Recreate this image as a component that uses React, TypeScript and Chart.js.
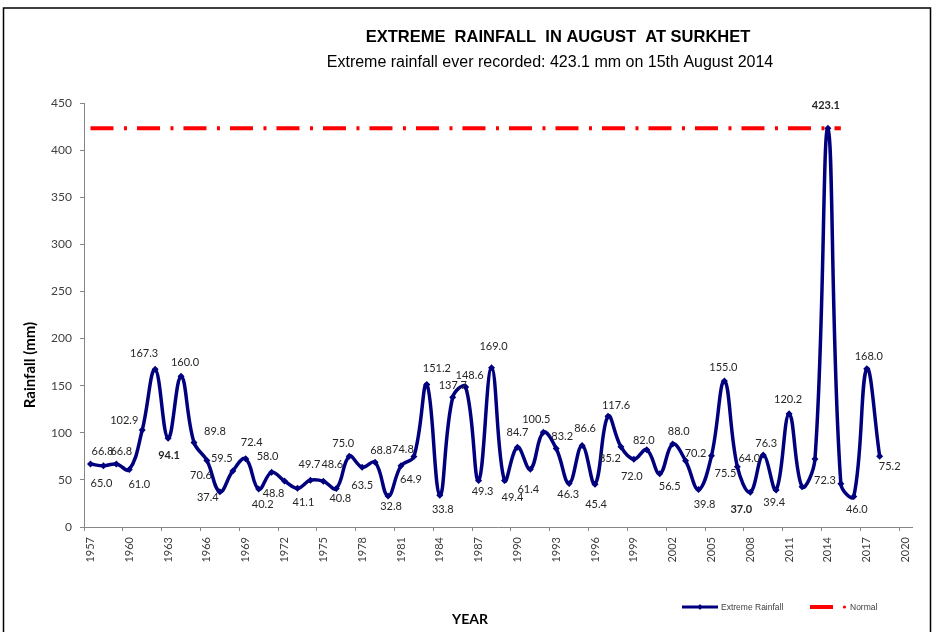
import React, { useEffect, useRef } from 'react';
import { Chart, registerables } from 'chart.js';

Chart.register(...registerables);

// ---------- data ----------
const YEARS = [
  '1957', '1958', '1959', '1960', '1961', '1962', '1963', '1964', '1965', '1966',
  '1967', '1968', '1969', '1970', '1971', '1972', '1973', '1974', '1975', '1976',
  '1977', '1978', '1979', '1980', '1981', '1982', '1983', '1984', '1985', '1986',
  '1987', '1988', '1989', '1990', '1991', '1992', '1993', '1994', '1995', '1996',
  '1997', '1998', '1999', '2000', '2001', '2002', '2003', '2004', '2005', '2006',
  '2007', '2008', '2009', '2010', '2011', '2012', '2013', '2014', '2015', '2016',
  '2017', '2018', '2019', '2020',
];

const RAINFALL = [
  66.8, 65.0, 66.8, 61.0, 102.9, 167.3, 94.1, 160.0, 89.8, 70.6,
  37.4, 59.5, 72.4, 40.2, 58.0, 48.8, 41.1, 49.7, 48.6, 40.8,
  75.0, 63.5, 68.8, 32.8, 64.9, 74.8, 151.2, 33.8, 137.7, 148.6,
  49.3, 169.0, 49.4, 84.7, 61.4, 100.5, 83.2, 46.3, 86.6, 45.4,
  117.6, 85.2, 72.0, 82.0, 56.5, 88.0, 70.2, 39.8, 75.5, 155.0,
  64.0, 37.0, 76.3, 39.4, 120.2, 42.8, 72.3, 423.1, 46.0, 32.5,
  168.0, 75.2, null, null,
];

const NORMAL_POINTS = [
  { year: '1957', value: 423.1 },
  { year: '2015', value: 423.1 },
];

const TICK_LABEL_YEARS = [
  '1957', '1960', '1963', '1966', '1969', '1972', '1975', '1978', '1981', '1984',
  '1987', '1990', '1993', '1996', '1999', '2002', '2005', '2008', '2011', '2014',
  '2017', '2020',
];

const BOLD_LABEL_YEARS = ['1963', '2008', '2014'];

const TITLE = 'EXTREME  RAINFALL  IN AUGUST  AT SURKHET';
const SUBTITLE = 'Extreme rainfall ever recorded: 423.1 mm on 15th August 2014';
const Y_TITLE = 'Rainfall (mm)';
const X_TITLE = 'YEAR';
const SERIES_NAME = 'Extreme Rainfall';
const NORMAL_NAME = 'Normal';

// label offsets (style): [dx, dy] from each point, null = hidden
const LABEL_OFFSETS: ([number, number] | null)[] = [
  [12, -13], [-2, 18], [5, -13], [10, 15], [-18, -10], [-11, -16], [1, 17], [4, -14], [21, -11], [-6, 15],
  [-12, 6], [-11, -12], [6, -16], [4, 15], [-4, -16], [-11, 12], [6, 14], [-1, -16], [9, -17], [4, 10],
  [-6, -13], [0, 18], [6, -12], [3, 10], [10, 14], [-11, -7], [10, -16], [3, 14], [0, -12], [4, -12],
  [4, 11], [2, -21], [8, 17], [0, -15], [-2, 20], [-7, -13], [6, -12], [-1, 11], [3, -17], [1, 20],
  [8, -11], [-11, 12], [-2, 17], [-3, -9], [10, 13], [6, -13], [10, -7], [6, 15], [14, 18], [-1, -14],
  [12, -8], [-9, 17], [3, -12], [-2, 13], [-1, -14], null, [10, 22], [-2, -23], [16, 26], null,
  [2, -12], [10, 10], null, null,
];

const NAVY = '#00007f';
const RED = '#ff0000';
const AXIS_GREY = '#868686';
const TEXT = '#262626';

const dataLabelPlugin = {
  id: 'dataLabels',
  afterDatasetsDraw(chart: any) {
    const meta = chart.getDatasetMeta(0);
    const ctx = chart.ctx;
    ctx.save();
    ctx.fillStyle = TEXT;
    ctx.textAlign = 'center';
    ctx.textBaseline = 'middle';
    meta.data.forEach((pt: any, i: number) => {
      const v = RAINFALL[i];
      const off = LABEL_OFFSETS[i];
      if (v === null || v === undefined || !off) return;
      const bold = BOLD_LABEL_YEARS.includes(YEARS[i]);
      ctx.font = (bold ? 'bold ' : '') + '11px Lato';
      ctx.fillText(v.toFixed(1), pt.x + off[0], pt.y + off[1]);
    });
    ctx.restore();
  },
};

const decorPlugin = {
  id: 'decor',
  beforeDraw(chart: any) {
    const ctx = chart.ctx;
    ctx.save();
    ctx.fillStyle = '#ffffff';
    ctx.fillRect(0, 0, chart.width, chart.height);
    ctx.restore();
  },
  afterDraw(chart: any) {
    const ctx = chart.ctx;
    ctx.save();
    // outer frame
    ctx.strokeStyle = '#000000';
    ctx.lineWidth = 1.5;
    ctx.strokeRect(3.5, 8, 927, 700);

    // titles
    ctx.fillStyle = '#000000';
    ctx.textAlign = 'center';
    ctx.textBaseline = 'middle';
    ctx.font = 'bold 16.5px "Liberation Sans"';
    ctx.fillText(TITLE, 558, 37);
    ctx.font = '16px "Liberation Sans"';
    ctx.fillText(SUBTITLE, 550, 63);

    // axis titles
    ctx.save();
    ctx.translate(30, 365);
    ctx.rotate(-Math.PI / 2);
    ctx.font = 'bold 15px Lato';
    ctx.fillText(Y_TITLE, 0, 0);
    ctx.restore();
    ctx.font = 'bold 14px Lato';
    ctx.fillText(X_TITLE, 470, 619);

    // legend
    const ly = 607;
    ctx.strokeStyle = NAVY;
    ctx.lineWidth = 3;
    ctx.beginPath();
    ctx.moveTo(682, ly);
    ctx.lineTo(718, ly);
    ctx.stroke();
    ctx.fillStyle = NAVY;
    ctx.beginPath();
    ctx.moveTo(700, ly - 3);
    ctx.lineTo(702.5, ly);
    ctx.lineTo(700, ly + 3);
    ctx.lineTo(697.5, ly);
    ctx.closePath();
    ctx.fill();

    ctx.strokeStyle = RED;
    ctx.lineWidth = 4;
    ctx.beginPath();
    ctx.moveTo(810, ly);
    ctx.lineTo(833, ly);
    ctx.stroke();
    ctx.fillStyle = RED;
    ctx.beginPath();
    ctx.arc(844.5, ly, 1.6, 0, Math.PI * 2);
    ctx.fill();

    ctx.fillStyle = '#404040';
    ctx.textAlign = 'left';
    ctx.font = '8.5px "Liberation Sans"';
    ctx.fillText(SERIES_NAME, 721, ly + 0.5);
    ctx.fillText(NORMAL_NAME, 850, ly + 0.5);
    ctx.restore();
  },
};

export default function App() {
  const canvasRef = useRef<HTMLCanvasElement | null>(null);

  useEffect(() => {
    const canvas = canvasRef.current;
    if (!canvas) return;
    const chart = new Chart(canvas, {
      type: 'line',
      data: {
        labels: YEARS,
        datasets: [
          {
            label: SERIES_NAME,
            data: RAINFALL,
            borderColor: NAVY,
            backgroundColor: NAVY,
            borderWidth: 3.5,
            tension: 0.4,
            pointStyle: 'rectRot',
            pointRadius: 3.5,
            pointBorderWidth: 0,
            pointBackgroundColor: NAVY,
            fill: false,
          },
          {
            label: NORMAL_NAME,
            data: NORMAL_POINTS.map((p) => ({ x: p.year, y: p.value })) as any,
            borderColor: RED,
            backgroundColor: RED,
            borderWidth: 4,
            borderDash: [23, 10.5, 3, 10],
            borderCapStyle: 'butt',
            pointRadius: 0,
            tension: 0,
            spanGaps: true,
            fill: false,
          },
        ],
      },
      options: {
        responsive: false,
        animation: false,
        devicePixelRatio: 1,
        layout: { padding: { left: 0, top: 103, right: 21, bottom: 0 } },
        plugins: {
          legend: { display: false },
          title: { display: false },
          tooltip: { enabled: false },
        },
        scales: {
          x: {
            type: 'category',
            offset: true,
            afterFit: (scale: any) => {
              scale.height = 105;
            },
            grid: {
              display: true,
              offset: true,
              drawOnChartArea: false,
              drawTicks: true,
              tickLength: 4,
              color: (c: any) => (c.index % 3 === 0 ? AXIS_GREY : 'rgba(0,0,0,0)'),
            },
            border: { display: true, color: AXIS_GREY, width: 1 },
            ticks: {
              autoSkip: false,
              maxRotation: 90,
              minRotation: 90,
              padding: 6,
              color: '#404040',
              font: { family: 'Lato', size: 11 },
              callback: (_v: any, idx: number) =>
                TICK_LABEL_YEARS.includes(YEARS[idx]) ? YEARS[idx] : '',
            },
          },
          y: {
            type: 'linear',
            min: 0,
            max: 450,
            afterFit: (scale: any) => {
              scale.width = 84;
            },
            grid: {
              display: true,
              drawOnChartArea: false,
              drawTicks: true,
              tickLength: 4,
              color: AXIS_GREY,
            },
            border: { display: true, color: AXIS_GREY, width: 1 },
            ticks: {
              stepSize: 50,
              padding: 8,
              color: '#404040',
              font: { family: 'Lato', size: 12 },
            },
          },
        },
      },
      plugins: [decorPlugin, dataLabelPlugin],
    });
    return () => chart.destroy();
  }, []);

  return (
    <div style={{ position: 'fixed', left: 0, top: 0, width: 933, height: 632, background: '#fff' }}>
      <canvas ref={canvasRef} width={933} height={632} style={{ display: 'block', width: 933, height: 632 }} />
    </div>
  );
}
